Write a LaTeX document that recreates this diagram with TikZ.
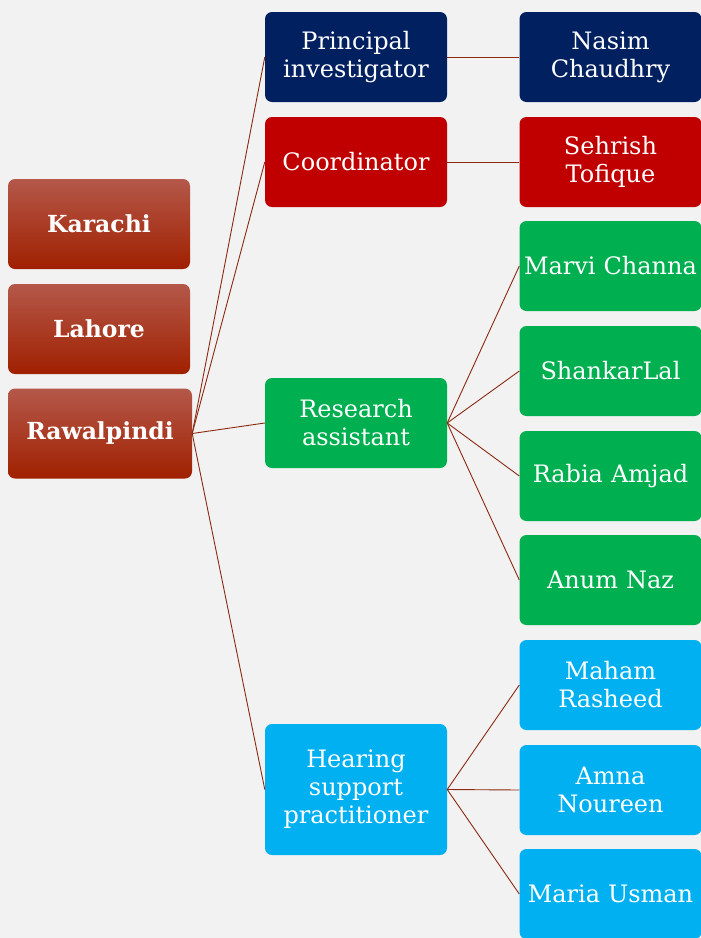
\documentclass[tikz,border=0pt]{standalone}
\usepackage{fontspec}
\setmainfont{DejaVu Serif}
\definecolor{bg}{HTML}{F2F2F2}
\definecolor{navy}{HTML}{002060}
\definecolor{dred}{HTML}{C00000}
\definecolor{grn}{HTML}{00B050}
\definecolor{sky}{HTML}{00B0F0}
\definecolor{citytop}{HTML}{B4584A}
\definecolor{citybot}{HTML}{A02000}
\definecolor{conn}{HTML}{8B2A10}
\begin{document}
\begin{tikzpicture}[x=1pt,y=-1pt,
  box/.style={rounded corners=7pt, minimum width=182pt, minimum height=90pt, inner sep=0pt,
    text width=180pt, align=center, text=white, font=\fontsize{24}{28}\selectfont},
  city/.style={box, top color=citytop, bottom color=citybot, font=\fontsize{23.5}{28}\selectfont\bfseries},
  link/.style={draw=conn, line width=0.9pt}]
\fill[bg] (0,0) rectangle (701,938);
\useasboundingbox (0,0) rectangle (701,938);
% cities
\node[city] (kar) at (99,224) {Karachi};
\node[city] (lah) at (99,329) {Lahore};
\node[city, minimum width=184pt] (raw) at (100,433.5) {Rawalpindi};
% roles
\node[box, fill=navy] (pi) at (356,57) {Principal\\investigator};
\node[box, fill=dred] (co) at (356,162) {Coordinator};
\node[box, fill=grn] (ra) at (356,423) {Research\\assistant};
\node[box, fill=sky, minimum height=131pt] (hs) at (356,789.5) {Hearing\\support\\practitioner};
% people
\node[box, fill=navy] (p1) at (610.5,57) {Nasim\\Chaudhry};
\node[box, fill=dred] (p2) at (610.5,162) {Sehrish\\Tofique};
\node[box, fill=grn] (p3) at (610.5,266) {Marvi Channa};
\node[box, fill=grn] (p4) at (610.5,371) {ShankarLal};
\node[box, fill=grn] (p5) at (610.5,476) {Rabia Amjad};
\node[box, fill=grn] (p6) at (610.5,580) {Anum Naz};
\node[box, fill=sky] (p7) at (610.5,685) {Maham\\Rasheed};
\node[box, fill=sky] (p8) at (610.5,790) {Amna\\Noureen};
\node[box, fill=sky] (p9) at (610.5,894) {Maria Usman};
% connectors
\foreach \t in {pi,co,ra,hs} \draw[link] (raw.east) -- (\t.west);
\draw[link] (pi.east) -- (p1.west);
\draw[link] (co.east) -- (p2.west);
\foreach \t in {p3,p4,p5,p6} \draw[link] (ra.east) -- (\t.west);
\foreach \t in {p7,p8,p9} \draw[link] (hs.east) -- (\t.west);
\end{tikzpicture}
\end{document}
